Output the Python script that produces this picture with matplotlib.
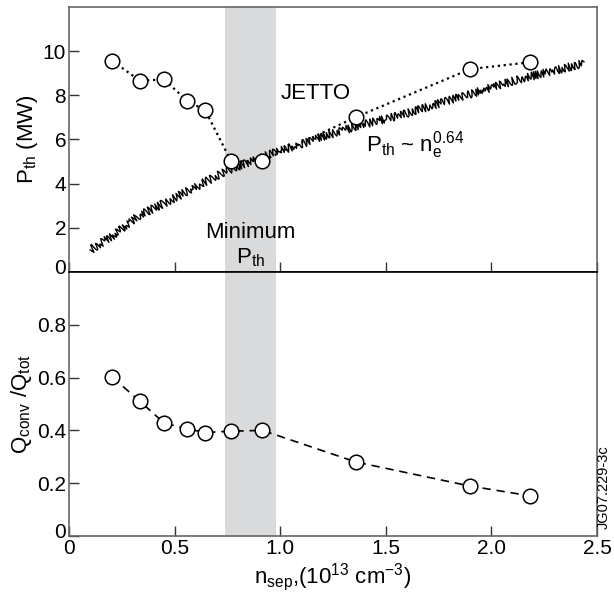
import matplotlib
matplotlib.use("Agg")
import matplotlib.pyplot as plt
import matplotlib.transforms as mtransforms

plt.rcParams['font.family'] = ['Liberation Sans', 'DejaVu Sans']
plt.rcParams['mathtext.fontset'] = 'custom'
plt.rcParams['mathtext.rm'] = 'Liberation Sans'
plt.rcParams['mathtext.it'] = 'Liberation Sans'

# JETTO scan points
n_sep = [0.205, 0.336, 0.45, 0.56, 0.645, 0.768, 0.916, 1.36, 1.90, 2.185]
p_th = [9.56, 8.66, 8.72, 7.75, 7.32, 5.01, 5.04, 7.02, 9.19, 9.50]
q_ratio = [0.602, 0.51, 0.428, 0.406, 0.392, 0.397, 0.40, 0.28, 0.189, 0.152]

# scaling law trend (drawn as a zigzag trace)
n_law = [0.10, 0.20, 0.32, 0.51, 0.75, 0.97, 1.36, 1.57, 1.88, 2.12, 2.44]
p_law = [1.0, 1.6, 2.5, 3.4, 4.6, 5.4, 6.6, 7.1, 8.0, 8.7, 9.45]

band = (0.738, 0.979)

fig = plt.figure(figsize=(6.14, 5.93), dpi=100)
left, right = 69/614, 597/614
mid = 1 - 272/593
top = 1 - 7/593
bot = 1 - 536/593
ax1 = fig.add_axes([left, mid, right-left, top-mid])
ax2 = fig.add_axes([left, bot, right-left, mid-bot], sharex=ax1)

for ax in (ax1, ax2):
    ax.axvspan(band[0], band[1], color='#d9dadc', lw=0, zorder=0)
    ax.set_xlim(0, 2.5)
    ax.tick_params(direction='in', length=7, width=1, labelsize=15, color='#333333',
                   pad=2)
    for s in ax.spines.values():
        s.set_color('#666666')
        s.set_linewidth(1.2)
ax1.spines['bottom'].set_color('black')
ax2.spines['top'].set_color('black')

# top panel
law, = ax1.plot(n_law, p_law, color='black', lw=1.0, zorder=2)
law.set_sketch_params(scale=4, length=4, randomness=2.5)
ax1.plot(n_sep, p_th, ls=':', lw=1.6, color='black', marker='o', ms=10.5,
         mfc='white', mec='black', mew=1.1, zorder=3)
ax1.set_ylim(0, 12)
ax1.set_yticks([0, 2, 4, 6, 8, 10])
ax1.set_xticks([0.5, 1.0, 1.5, 2.0])
ax1.tick_params(axis='x', labelbottom=False)
ax1.set_ylabel('P$_{\\mathrm{th}}$ (MW)', fontsize=16, labelpad=2)
ax1.text(1.0, 8.1, 'JETTO', fontsize=16, ha='left', va='center')
ax1.text(1.64, 5.75, 'P$_{\\mathrm{th}}$ ~ n$_{\\mathrm{e}}^{0.64}$', fontsize=16,
         ha='center', va='center')
ax1.text(0.86, 1.8, 'Minimum', fontsize=16, ha='center', va='center')
ax1.text(0.86, 0.65, 'P$_{\\mathrm{th}}$', fontsize=16, ha='center', va='center')

# bottom panel
ax2.plot(n_sep, q_ratio, ls=(0, (5, 3.5)), lw=1.2, color='black', marker='o', ms=10.5,
         mfc='white', mec='black', mew=1.1, zorder=3)
ax2.set_ylim(0, 1.0)
ax2.set_yticks([0, 0.2, 0.4, 0.6, 0.8])
ax2.set_yticklabels(['0', '0.2', '0.4', '0.6', '0.8'])
ax2.set_xticks([0, 0.5, 1.0, 1.5, 2.0, 2.5])
ax2.set_xticklabels(['0', '0.5', '1.0', '1.5', '2.0', '2.5'])
ax2.set_ylabel('Q$_{\\mathrm{conv}}$ /Q$_{\\mathrm{tot}}$', fontsize=16, labelpad=2)
ax2.set_xlabel('n$_{\\mathrm{sep}}$,(10$^{13}$ cm$^{-3}$)', fontsize=16, labelpad=2)

# zero labels sit a little above their axis line
shift = mtransforms.ScaledTranslation(0, 5/100, fig.dpi_scale_trans)
for ax in (ax1, ax2):
    lab = ax.get_yticklabels()[0]
    lab.set_transform(lab.get_transform() + shift)

fig.text(604/614, 1 - 487/593, 'JG07.229-3c', rotation=90, fontsize=10.5,
         ha='center', va='center')

fig.savefig('out.png', dpi=100)
